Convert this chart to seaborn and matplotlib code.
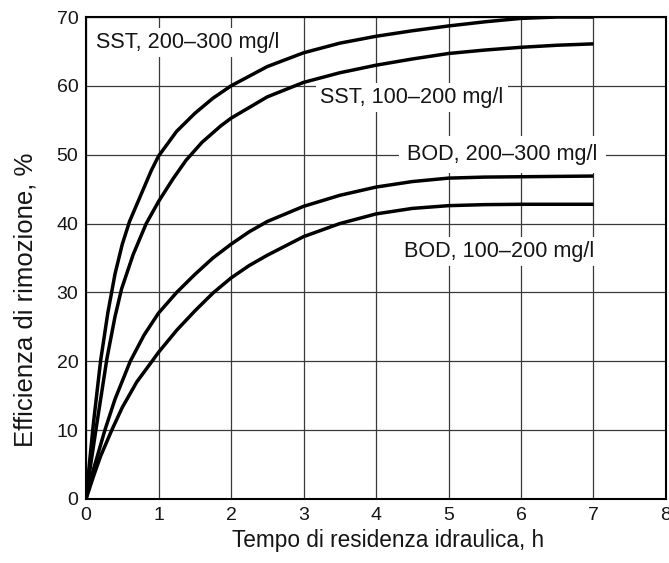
import numpy as np
import pandas as pd
import matplotlib
matplotlib.use("Agg")
import matplotlib.pyplot as plt
import seaborn as sns

# ---- data ----
sst_hi_x = [0, 0.05, 0.1, 0.2, 0.3, 0.4, 0.5, 0.6, 0.75, 0.9, 1.0, 1.25, 1.5, 1.75,
            2.0, 2.5, 3.0, 3.5, 4.0, 4.5, 5.0, 5.5, 6.0, 6.5, 7.0]
sst_hi_y = [0, 5.5, 10.8, 20, 27, 32.7, 37, 40.3, 44, 47.7, 49.8, 53.4, 56.0, 58.2,
            60, 62.8, 64.8, 66.2, 67.2, 68.0, 68.7, 69.3, 69.8, 70, 70]

sst_lo_x = [0, 0.05, 0.15, 0.29, 0.4, 0.49, 0.65, 0.83, 1.0, 1.2, 1.38, 1.6, 1.86,
            2.0, 2.5, 3.0, 3.5, 4.0, 4.5, 5.0, 5.5, 6.0, 6.5, 7.0]
sst_lo_y = [0, 4, 11, 20.5, 26.5, 30.5, 35.5, 40.0, 43.2, 46.5, 49.2, 51.8, 54.2,
            55.3, 58.4, 60.5, 61.9, 63.0, 63.9, 64.7, 65.2, 65.6, 65.9, 66.1]

bod_hi_x = [0, 0.1, 0.26, 0.4, 0.61, 0.8, 1.0, 1.25, 1.5, 1.75, 2.0, 2.25, 2.5,
            3.0, 3.5, 4.0, 4.5, 5.0, 5.5, 6.0, 7.0]
bod_hi_y = [0, 4.2, 10, 14.5, 20, 23.8, 27.0, 30, 32.6, 35.0, 37.0, 38.8, 40.3,
            42.5, 44.1, 45.3, 46.1, 46.6, 46.75, 46.8, 46.9]

bod_lo_x = [0, 0.1, 0.2, 0.355, 0.5, 0.7, 0.91, 1.0, 1.25, 1.5, 1.75, 2.0,
            2.25, 2.5, 3.0, 3.5, 4.0, 4.5, 5.0, 5.5, 6.0, 7.0]
bod_lo_y = [0, 3.2, 6.2, 10, 13.3, 17.0, 20, 21.3, 24.5, 27.3, 29.9, 32.1,
            33.9, 35.4, 38.1, 40.0, 41.4, 42.2, 42.6, 42.75, 42.8, 42.8]

series_names = ["SST, 200–300 mg/l", "SST, 100–200 mg/l",
                "BOD, 200–300 mg/l", "BOD, 100–200 mg/l"]

x_ticks = [0, 1, 2, 3, 4, 5, 6, 7, 8]
y_ticks = [0, 10, 20, 30, 40, 50, 60, 70]

xlabel = "Tempo di residenza idraulica, h"
ylabel = "Efficienza di rimozione, %"

frames = []
for name, xs, ys in zip(series_names,
                        [sst_hi_x, sst_lo_x, bod_hi_x, bod_lo_x],
                        [sst_hi_y, sst_lo_y, bod_hi_y, bod_lo_y]):
    frames.append(pd.DataFrame({"x": xs, "y": ys, "serie": name}))
df = pd.concat(frames, ignore_index=True)

sns.set_theme(style="white")
plt.rcParams["font.family"] = ["Liberation Sans", "DejaVu Sans"]

fig = plt.figure(figsize=(6.69, 5.63), dpi=100)
ax = fig.add_axes([0.1286, 0.1137, 0.8669, 0.8561])

sns.lineplot(data=df, x="x", y="y", hue="serie", palette=["black"] * 4,
             linewidth=2.5, legend=False, sort=False, ax=ax, zorder=3)
for ln in ax.lines:
    ln.set_solid_capstyle("butt")
    ln.set_solid_joinstyle("round")

ax.set_xlim(0, 8)
ax.set_ylim(0, 70)
ax.set_xticks(x_ticks)
ax.set_yticks(y_ticks)
ax.grid(True, color="#3a3a3a", linewidth=0.9)
ax.set_axisbelow(True)
for s in ax.spines.values():
    s.set_color("black")
    s.set_linewidth(1.5)
ax.tick_params(axis="both", length=0, labelsize=14, colors="#151515")
ax.tick_params(axis="x", pad=6)
ax.tick_params(axis="y", pad=5.5)

ax.set_xlabel(xlabel, fontsize=16.3, color="#151515")
ax.set_ylabel(ylabel, fontsize=18.5, color="#151515")
ax.xaxis.set_label_coords(0.521, -0.087)
ax.xaxis.label.set_va("center")
ax.yaxis.set_label_coords(-0.105, 0.413)
ax.yaxis.label.set_va("center")
ax.yaxis.label.set_ha("center")
ax.yaxis.label.set_rotation_mode("anchor")

bbox = dict(facecolor="white", edgecolor="none", pad=3)
fs = 15.6
ax.text(0.138, 65.45, series_names[0], fontsize=fs, va="baseline", ha="left",
        color="#151515", bbox=bbox, zorder=4)
ax.text(3.23, 57.5, series_names[1], fontsize=fs, va="baseline", ha="left",
        color="#151515", bbox=bbox, zorder=4)
ax.text(4.43, 49.2, series_names[2], fontsize=fs, va="baseline", ha="left",
        color="#151515", bbox=dict(facecolor="white", edgecolor="none", pad=6), zorder=4)
ax.text(4.39, 35.2, series_names[3], fontsize=fs, va="baseline", ha="left",
        color="#151515", bbox=bbox, zorder=4)

fig.savefig("out.png", dpi=100)
